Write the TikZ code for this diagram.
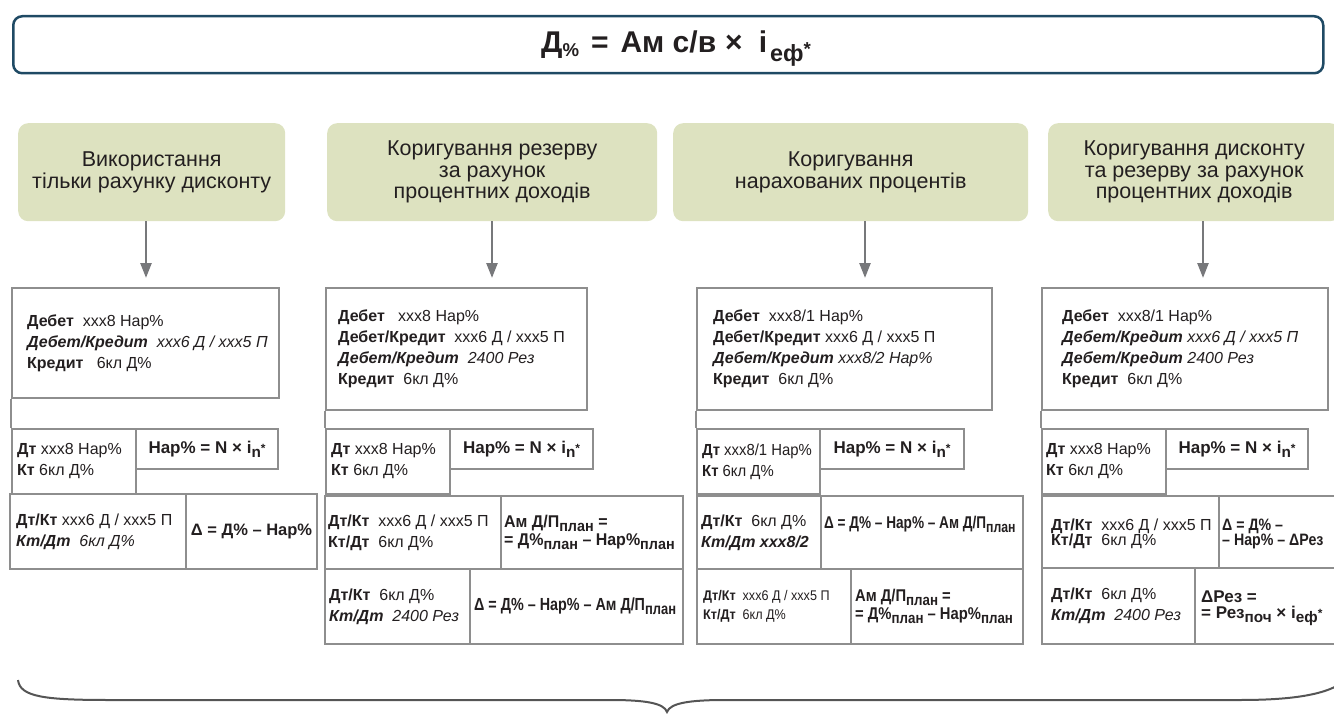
\documentclass[tikz,border=0pt]{standalone}
\usepackage{fontspec}
\setmainfont{Liberation Sans}
\setsansfont{Liberation Sans}
\usepackage{graphicx}
\usetikzlibrary{arrows.meta}
\definecolor{hdrgreen}{HTML}{DDE2C0}
\definecolor{cellgray}{HTML}{8E8E8E}
\definecolor{arrgray}{HTML}{77787B}
\definecolor{topblue}{HTML}{1F4A64}
\definecolor{txt}{HTML}{231F20}
\definecolor{bracec}{HTML}{555555}
\newcommand\sbs[1]{\raisebox{-0.45ex}{\scalebox{0.9}{#1}}}
\newcommand\astx{\raisebox{0.1ex}{\scalebox{0.7}{*}}}
% box with left-aligned text
\newcommand\cellbox[8][]{%
  \pgfmathsetmacro\bw{#5-#3}\pgfmathsetmacro\bh{#6-#4}%
  \node[cell, anchor=north west, minimum width=\bw pt, minimum height=\bh pt] (#2) at (#3,#4) {};
  \node[celltext, anchor=west, #1] (#2t) at ([xshift=#7pt]#2.west) {#8};}
% box with centred text
\newcommand\cellboxc[7][]{%
  \pgfmathsetmacro\bw{#5-#3}\pgfmathsetmacro\bh{#6-#4}%
  \node[cell, anchor=north west, minimum width=\bw pt, minimum height=\bh pt] (#2) at (#3,#4) {};
  \node[celltext, anchor=center, #1] (#2t) at (#2.center) {#7};}
\tikzset{
  cell/.style={draw=cellgray, line width=2, fill=white, inner sep=0},
  celltext/.style={inner sep=0, align=left, text=txt, font=\fontsize{16}{21}\selectfont},
  cond/.style={transform shape, xscale=#1},
  hdr/.style={fill=hdrgreen, rounded corners=10, align=center, text=txt, anchor=north west,
              minimum height=98, font=\fontsize{21.5}{21.5}\selectfont},
  arr/.style={draw=arrgray, line width=2.5, -{Triangle[length=15,width=11]}, shorten >=9pt},
  conn/.style={draw=cellgray, line width=2},
  bracel/.style={draw=bracec, line width=2}
}
\begin{document}
\begin{tikzpicture}[x=1pt,y=-1pt]
\useasboundingbox (0,0) rectangle (1334,725);
\clip (0,0) rectangle (1334,725);

% top formula
\node[draw=topblue, line width=2.5, rounded corners=9, minimum width=1310, minimum height=57,
      anchor=north west] (top) at (12,15) {};
\node[text=txt, font=\fontsize{30}{32}\selectfont\bfseries, anchor=base, inner sep=0] (formula) at (676,53)
  {Д\raisebox{-0.2ex}{\scalebox{0.62}{\%}}\hspace{12pt}=\hspace{12pt}Ам\ с/в\hspace{9pt}×\hspace{16pt}i\hspace{3pt}\raisebox{-0.55ex}{\scalebox{0.78}{еф\raisebox{0.5ex}{\scalebox{0.8}{*}}}}};

% headers
\node[hdr, minimum width=267] (h1) at (18,123) {Використання\\тільки рахунку дисконту};
\node[hdr, minimum width=330] (h2) at (327,123) {Коригування резерву\\за рахунок\\процентних доходів};
\node[hdr, minimum width=355] (h3) at (673,123) {Коригування\\нарахованих процентів};
\node[hdr, minimum width=292] (h4) at (1048,123) {Коригування дисконту\\та резерву за рахунок\\процентних доходів};

% column 1
\cellbox{b1}{11}{287}{278}{397}{16}{\textbf{Дебет}\ \ xxx8 Нар\%\\
  \textbf{\textit{Дебет/Кредит}}\ \ \textit{xxx6 Д / xxx5 П}\\
  \textbf{Кредит}\ \ \ 6кл Д\%}
\cellbox{d1}{11}{428}{135}{493}{6}{\textbf{Дт}\ xxx8 Нар\%\\\textbf{Кт}\ 6кл Д\%}
\cellboxc[font=\fontsize{17}{21}\selectfont]{n1}{135}{428}{277}{468}{\textbf{Нар\% = N × i\sbs{n}\astx}}
\cellbox{k1}{9}{493}{185}{568}{7}{\textbf{Дт/Кт}\ xxx6 Д / xxx5 П\\
  \textbf{\textit{Кт/Дт}}\ \ \textit{6кл Д\%}}
\cellboxc[font=\fontsize{16.5}{21}\selectfont]{e1}{185}{493}{316}{568}{\textbf{Δ = Д\% – Нар\%}}

% column 2
\cellbox{b2}{325}{287}{586}{409}{13}{\textbf{Дебет}\ \ \ xxx8 Нар\%\\
  \textbf{Дебет/Кредит}\ \ xxx6 Д / xxx5 П\\
  \textbf{\textit{Дебет/Кредит}}\ \ \textit{2400 Рез}\\
  \textbf{Кредит}\ \ 6кл Д\%}
\cellbox{d2}{325}{428}{449}{493}{6}{\textbf{Дт}\ xxx8 Нар\%\\\textbf{Кт}\ 6кл Д\%}
\cellboxc[font=\fontsize{17}{21}\selectfont]{n2}{449}{428}{592}{468}{\textbf{Нар\% = N × i\sbs{n}\astx}}
\cellbox{k2}{324}{495}{500}{568}{4}{\textbf{Дт/Кт}\ \ xxx6 Д / xxx5 П\\
  \textbf{Кт/Дт}\ \ 6кл Д\%}
\cellbox[font=\fontsize{17}{18}\selectfont, cond=0.94]{a2}{500}{495}{682}{568}{4}{\textbf{Ам Д/П\sbs{план} =}\\
  \textbf{= Д\%\sbs{план} – Нар\%\sbs{план}}}
\cellbox{m2}{324}{568}{469}{643}{5}{\textbf{Дт/Кт}\ \ 6кл Д\%\\
  \textbf{\textit{Кт/Дт}}\ \ \textit{2400 Рез}}
\cellbox[font=\fontsize{17.5}{21}\selectfont, cond=0.82]{e2}{469}{568}{682}{643}{5}{\textbf{Δ = Д\% – Нар\% – Ам Д/П\sbs{план}}}

% column 3
\cellbox{b3}{696}{287}{991}{409}{17}{\textbf{Дебет}\ \ xxx8/1 Нар\%\\
  \textbf{Дебет/Кредит} xxx6 Д / xxx5 П\\
  \textbf{\textit{Дебет/Кредит}} \textit{xxx8/2 Нар\%}\\
  \textbf{Кредит}\ \ 6кл Д\%}
\cellbox[cond=0.93]{d3}{696}{428}{819}{493}{6}{\textbf{Дт} xxx8/1 Нар\%\\\textbf{Кт}\ 6кл Д\%}
\cellboxc[font=\fontsize{17}{21}\selectfont]{n3}{819}{428}{963}{468}{\textbf{Нар\% = N × i\sbs{n}\astx}}
\cellbox{k3}{696}{495}{820}{568}{5}{\textbf{Дт/Кт}\ \ 6кл Д\%\\
  \textbf{\textit{Кт/Дт xxx8/2}}}
\cellbox[font=\fontsize{17}{21}\selectfont, cond=0.8, yshift=8pt]{e3}{820}{495}{1022}{568}{4}{\textbf{Δ = Д\% – Нар\% – Ам Д/П\sbs{план}}}
\cellbox[font=\fontsize{14}{19}\selectfont, cond=0.9]{m3}{696}{568}{850}{643}{7}{\textbf{Дт/Кт}\ \ xxx6 Д / xxx5 П\\
  \textbf{Кт/Дт}\ \ 6кл Д\%}
\cellbox[font=\fontsize{17}{18}\selectfont, cond=0.87]{a3}{850}{568}{1022}{643}{5}{\textbf{Ам Д/П\sbs{план} =}\\
  \textbf{= Д\%\sbs{план} – Нар\%\sbs{план}}}

% column 4
\cellbox{b4}{1041}{287}{1327}{409}{21}{\textbf{Дебет}\ \ xxx8/1 Нар\%\\
  \textbf{\textit{Дебет/Кредит}} \textit{xxx6 Д / xxx5 П}\\
  \textbf{\textit{Дебет/Кредит}} \textit{2400 Рез}\\
  \textbf{Кредит}\ \ 6кл Д\%}
\cellbox{d4}{1041}{428}{1165}{493}{5}{\textbf{Дт}\ xxx8 Нар\%\\\textbf{Кт}\ 6кл Д\%}
\cellboxc[font=\fontsize{17}{21}\selectfont]{n4}{1165}{428}{1307}{468}{\textbf{Нар\% = N × i\sbs{n}\astx}}
\cellbox[font=\fontsize{16}{15.5}\selectfont, yshift=-2pt]{k4}{1041}{495}{1218}{567}{10}{\textbf{Дт/Кт}\ \ xxx6 Д / xxx5 П\\
  \textbf{Кт/Дт}\ \ 6кл Д\%}
\cellbox[font=\fontsize{16.5}{15.5}\selectfont, cond=0.86, yshift=-2pt]{e4}{1218}{495}{1345}{567}{4}{\textbf{Δ = Д\% –}\\
  \textbf{– Нар\% – ΔРез}}
\cellbox{m4}{1041}{567}{1194}{643}{10}{\textbf{Дт/Кт}\ \ 6кл Д\%\\
  \textbf{\textit{Кт/Дт}}\ \ \textit{2400 Рез}}
\cellbox[font=\fontsize{17}{16}\selectfont, yshift=-2pt]{r4}{1194}{567}{1345}{643}{7}{\textbf{ΔРез =}\\
  \textbf{= Рез\sbs{поч} × i\sbs{еф}\astx}}

% connectors between main boxes and lower rows
\draw[conn] (b1.south west) -- (d1.north west);
\draw[conn] (b2.south west) -- (d2.north west);
\draw[conn] (b3.south west) -- (d3.north west);
\draw[conn] (b4.south west) -- (d4.north west);

% arrows
\coordinate (x1) at (146,0);
\coordinate (x2) at (492,0);
\coordinate (x3) at (865,0);
\coordinate (x4) at (1203,0);
\draw[arr] (h1.south -| x1) -- (b1.north -| x1);
\draw[arr] (h2.south -| x2) -- (b2.north -| x2);
\draw[arr] (h3.south -| x3) -- (b3.north -| x3);
\draw[arr] (h4.south -| x4) -- (b4.north -| x4);

% brace
\coordinate (bl) at (18,680);
\coordinate (bt) at (667,712);
\coordinate (br) at (1350,676);
\draw[bracel] (bl) .. controls (20,697) and (45,700) .. (110,700) -- (610,700)
  .. controls (645,700) and (664,703) .. (bt)
  .. controls (670,703) and (690,700) .. (725,700) -- (1240,700)
  .. controls (1300,700) and (1335,693) .. (br);
\end{tikzpicture}
\end{document}
